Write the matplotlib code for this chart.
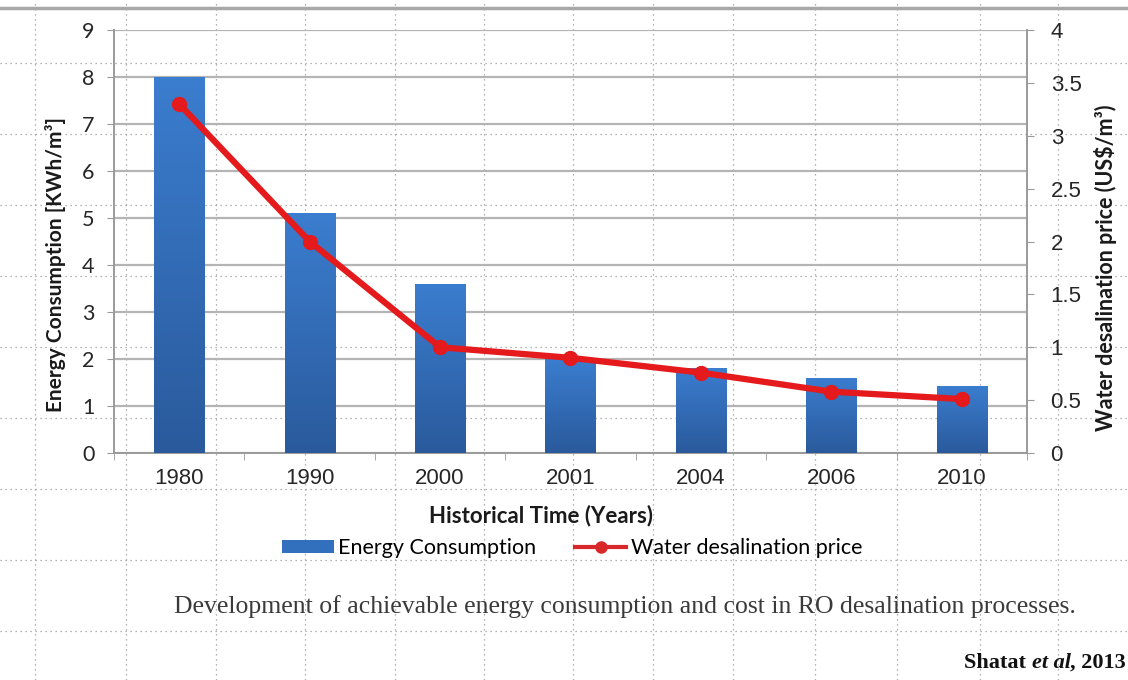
import matplotlib
matplotlib.use('Agg')

import matplotlib.pyplot as plt
import numpy as np
from matplotlib.lines import Line2D
from matplotlib.patches import Patch
from matplotlib.colors import LinearSegmentedColormap

# Data
years = ['1980', '1990', '2000', '2001', '2004', '2006', '2010']
energy = [8.0, 5.1, 3.6, 2.0, 1.8, 1.6, 1.43]          # KWh/m3
price = [3.3, 2.0, 1.0, 0.9, 0.76, 0.58, 0.51]         # US$/m3

left_ticks = list(range(0, 10))
right_ticks = [0, 0.5, 1, 1.5, 2, 2.5, 3, 3.5, 4]
right_labels = ['0', '0.5', '1', '1.5', '2', '2.5', '3', '3.5', '4']

caption = 'Development of achievable energy consumption and cost in RO desalination processes.'

W, H = 1128, 680
fig = plt.figure(figsize=(W / 100, H / 100), dpi=100)

# slide background: dotted guide grid over the whole figure
bg = fig.add_axes([0, 0, 1, 1], zorder=-5)
bg.set_xlim(0, W)
bg.set_ylim(H, 0)
bg.axis('off')
for gx in [35, 126, 216, 305, 395, 484, 573, 653, 733, 815, 897, 980, 1058]:
    bg.axvline(gx, color='#9a9a9a', lw=0.9, ls=(0, (1, 3)))
for gy in [63, 134, 205, 276, 347, 418, 489, 560, 631]:
    bg.axhline(gy, color='#9a9a9a', lw=0.9, ls=(0, (1, 3)))
bg.axhline(8, color='#a8a8a8', lw=2.5)

ax = fig.add_axes([114 / W, 1 - 453 / H, (1027 - 114) / W, (453 - 30) / H])
ax.patch.set_alpha(0)
x = np.arange(len(years))

bars = ax.bar(x, energy, width=0.385, color='#3270bd', zorder=3)

# vertical gradient on each bar, clipped to the bar
cmap = LinearSegmentedColormap.from_list('bargrad', ['#2a5a9c', '#3b7dcf'])
grad = np.linspace(0, 1, 256).reshape(-1, 1)
for b in bars:
    bx, by = b.get_x(), b.get_y()
    bw, bh = b.get_width(), b.get_height()
    im = ax.imshow(grad, cmap=cmap, origin='lower', aspect='auto',
                   extent=[bx, bx + bw, by, by + bh], zorder=3)
    im.set_clip_path(b)
ax.set_xlim(-0.5, len(years) - 0.5)
ax.set_ylim(0, 9)

ax.set_yticks(left_ticks)
ax.yaxis.grid(True, color='#b4b4b4', lw=1.6, zorder=0)
ax.set_axisbelow(True)
ax.set_xticks(x)
ax.set_xticklabels(years, fontsize=16, color='#262626', fontfamily='Liberation Sans')
ax.set_xticks(np.arange(-0.5, len(years), 1), minor=True)
ax.tick_params(axis='x', which='major', length=0, pad=11)
ax.tick_params(axis='x', which='minor', length=5, color='#9a9a9a')
ax.tick_params(axis='y', length=5, color='#9a9a9a', labelsize=15.5, labelcolor='#262626', pad=9)
for lab in ax.get_yticklabels():
    lab.set_fontfamily('Lato')
for side in ['top', 'right']:
    ax.spines[side].set_visible(False)
for side in ['left', 'bottom']:
    ax.spines[side].set_color('#9a9a9a')
    ax.spines[side].set_linewidth(1.4)

ax.set_ylabel('Energy Consumption [KWh/m³]', fontsize=15, fontweight='bold',
              fontfamily='Lato', color='#1a1a1a')
ax.yaxis.set_label_coords(-(114 - 66) / (1027 - 114), (453 - 264) / 423)
ax.set_xlabel('Historical Time (Years)', fontsize=16, fontweight='bold',
              fontfamily='Lato', color='#1a1a1a')
ax.xaxis.set_label_coords((541 - 114) / (1027 - 114), -(505 - 453) / 423)

ax2 = ax.twinx()
ax2.plot(x, price, color='#e41a1c', lw=4.5, marker='o', ms=10, zorder=5)
ax2.set_ylim(0, 4)
ax2.set_yticks(right_ticks)
ax2.set_yticklabels(right_labels, fontsize=16, color='#262626', fontfamily='Liberation Sans')
ax2.tick_params(axis='y', length=5, color='#9a9a9a', pad=12)
for side in ['top', 'left', 'bottom']:
    ax2.spines[side].set_visible(False)
ax2.spines['right'].set_color('#9a9a9a')
ax2.spines['right'].set_linewidth(1.4)
ax2.set_ylabel('Water desalination price (US$/m³)', fontsize=15.5, fontweight='bold',
               fontfamily='Lato', color='#1a1a1a')
ax2.yaxis.set_label_coords((1094 - 114) / (1027 - 114), (453 - 268) / 423)

handles = [Patch(facecolor='#3270bd'),
           Line2D([0], [0], color='#d8282a', lw=3, marker='o', ms=8)]
fig.legend(handles, ['Energy Consumption', 'Water desalination price'],
           loc='center', bbox_to_anchor=(572 / W, 1 - 548 / H), ncol=2,
           frameon=False, prop={'family': 'Lato', 'size': 15.5},
           handlelength=2.4, handleheight=0.55, handletextpad=0.2,
           columnspacing=1.8)

fig.text(625 / W, 1 - 607 / H, caption, ha='center', va='center',
         fontsize=18.5, fontfamily='Liberation Serif', color='#3a3a3a')

# citation: bold, with "et al" in bold italic
renderer = fig.canvas.get_renderer()
parts = [('Shatat ', 'normal'), ('et al', 'italic'), (', 2013', 'normal')]
inv = fig.transFigure.inverted()
xpos = 964 / W
for txt, style in parts:
    t = fig.text(xpos, 1 - 663 / H, txt, ha='left', va='center', fontsize=16,
                 fontfamily='Liberation Serif', fontweight='bold', fontstyle=style,
                 color='#111111')
    bb = t.get_window_extent(renderer=renderer)
    xpos = inv.transform((bb.x1, 0))[0]

fig.savefig('out.png', dpi=100)
